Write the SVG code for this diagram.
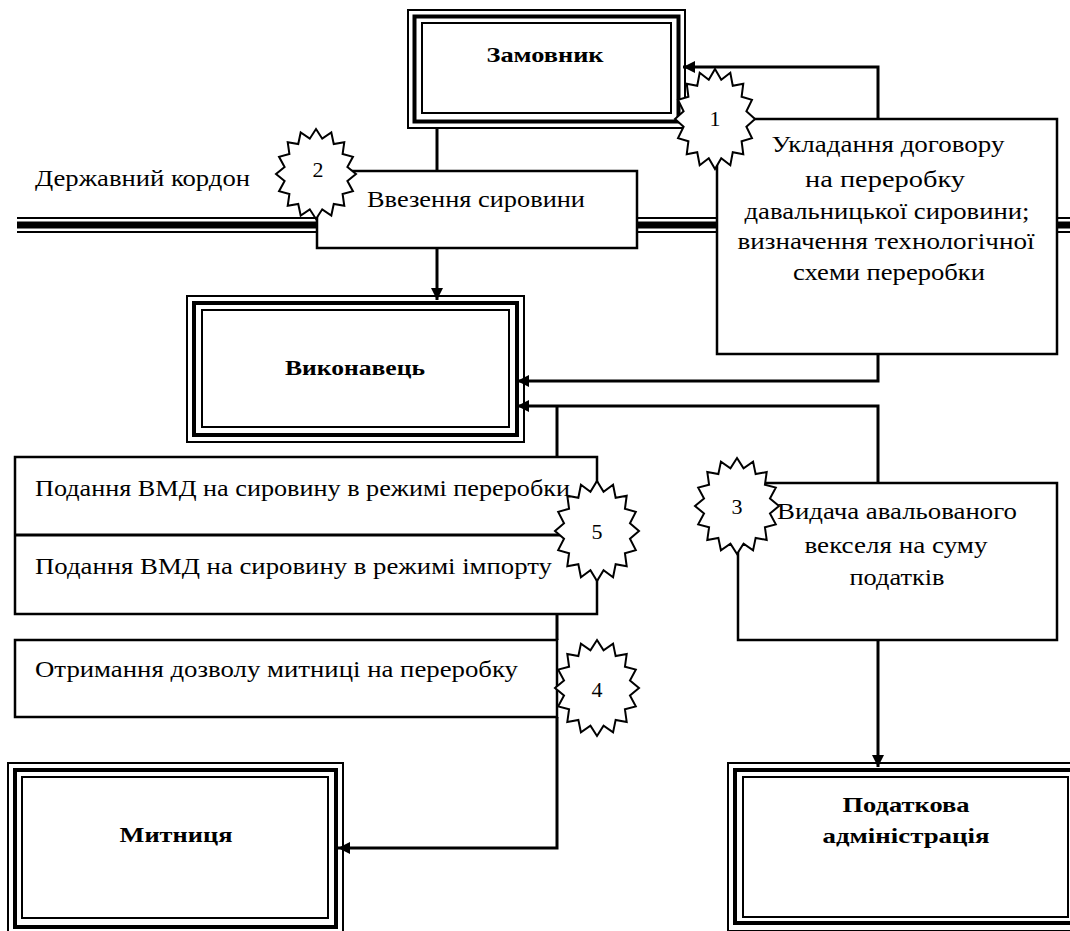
<svg xmlns="http://www.w3.org/2000/svg" xmlns:xlink="http://www.w3.org/1999/xlink" width="1070" height="931" viewBox="0 0 1070 931">
<style>
.box{fill:#fff;stroke:#000;stroke-width:2.5}
.fo{fill:#fff;stroke:#000;stroke-width:2}
.fthin{fill:none;stroke:#000;stroke-width:2}
.fthick{fill:none;stroke:#000;stroke-width:4}
.conn{fill:none;stroke:#000;stroke-width:3}
.bl{stroke:#000;fill:none}
.t{font-family:"Liberation Serif","Times New Roman",serif;font-size:23px;fill:#000}
.b{font-weight:bold;font-size:22px}
.n{font-size:22px}
.star{fill:#fff;stroke:#000;stroke-width:2;vector-effect:non-scaling-stroke}
</style>
<defs>
<marker id="ah" markerWidth="13" markerHeight="13" refX="12" refY="6.5" orient="auto" markerUnits="userSpaceOnUse">
<path d="M0,0.5 L12,6.5 L0,12.5 z" fill="#000"/>
</marker>
<polygon id="star" class="star" points="0,-1 0.156,-0.785 0.3827,-0.9239 0.444,-0.665 0.7071,-0.7071 0.665,-0.444 0.9239,-0.3827 0.785,-0.156 1,0 0.785,0.156 0.9239,0.3827 0.665,0.444 0.7071,0.7071 0.444,0.665 0.3827,0.9239 0.156,0.785 0,1 -0.156,0.785 -0.3827,0.9239 -0.444,0.665 -0.7071,0.7071 -0.665,0.444 -0.9239,0.3827 -0.785,0.156 -1,0 -0.785,-0.156 -0.9239,-0.3827 -0.665,-0.444 -0.7071,-0.7071 -0.444,-0.665 -0.3827,-0.9239 -0.156,-0.785"/>
</defs>
<rect width="1070" height="931" fill="#fff"/>

<g id="border">
<line class="bl" x1="17" y1="218" x2="1070" y2="218" stroke-width="2"/>
<line class="bl" x1="17" y1="225" x2="1070" y2="225" stroke-width="7"/>
<line class="bl" x1="17" y1="232" x2="1070" y2="232" stroke-width="2"/>
<text class="t" x="35" y="186" textLength="215" lengthAdjust="spacingAndGlyphs">Державний кордон</text>
</g>

<g id="zamovnyk">
<rect class="fo" x="408" y="10" width="277" height="118"/>
<rect class="fthick" x="414.5" y="16.5" width="264" height="105"/>
<rect class="fthin" x="422" y="23" width="249" height="90"/>
<text class="t b" x="545" y="62" text-anchor="middle" textLength="117" lengthAdjust="spacingAndGlyphs">Замовник</text>
</g>

<g id="vykonavets">
<rect class="fo" x="187" y="296" width="337" height="146"/>
<rect class="fthick" x="194" y="303" width="323" height="132"/>
<rect class="fthin" x="202" y="310" width="307" height="117"/>
<text class="t b" x="355" y="375" text-anchor="middle" textLength="140" lengthAdjust="spacingAndGlyphs">Виконавець</text>
</g>

<g id="mytnytsia">
<rect class="fo" x="8" y="763" width="335" height="172"/>
<rect class="fthick" x="15" y="770" width="321" height="157"/>
<rect class="fthin" x="22" y="777" width="306" height="141"/>
<text class="t b" x="176" y="842" text-anchor="middle" textLength="113" lengthAdjust="spacingAndGlyphs">Митниця</text>
</g>

<g id="podatkova">
<rect class="fo" x="728" y="763" width="356" height="168"/>
<rect class="fthick" x="735" y="770" width="341" height="153"/>
<rect class="fthin" x="743" y="777" width="325" height="140"/>
<text class="t b" x="906" y="812" text-anchor="middle" textLength="127" lengthAdjust="spacingAndGlyphs">Податкова</text>
<text class="t b" x="906" y="843" text-anchor="middle" textLength="167" lengthAdjust="spacingAndGlyphs">адміністрація</text>
</g>

<g id="vvezennia">
<rect class="box" x="317" y="171" width="320" height="77"/>
<text class="t" x="476" y="207" text-anchor="middle" textLength="218" lengthAdjust="spacingAndGlyphs">Ввезення сировини</text>
</g>

<g id="ukladannia">
<rect class="box" x="717" y="119" width="340" height="235"/>
<text class="t" x="888" y="152" text-anchor="middle" textLength="233" lengthAdjust="spacingAndGlyphs">Укладання договору</text>
<text class="t" x="885" y="187" text-anchor="middle" textLength="160" lengthAdjust="spacingAndGlyphs">на переробку</text>
<text class="t" x="887" y="219" text-anchor="middle" textLength="285" lengthAdjust="spacingAndGlyphs">давальницької сировини;</text>
<text class="t" x="886" y="249" text-anchor="middle" textLength="297" lengthAdjust="spacingAndGlyphs">визначення технологічної</text>
<text class="t" x="889" y="280" text-anchor="middle" textLength="192" lengthAdjust="spacingAndGlyphs">схеми переробки</text>
</g>

<g id="podannia">
<rect class="box" x="15" y="457" width="582" height="157"/>
<line class="conn" x1="15" y1="535" x2="597" y2="535" stroke-width="2.5"/>
<text class="t" x="35" y="496" textLength="535" lengthAdjust="spacingAndGlyphs">Подання ВМД на сировину в режимі переробки</text>
<text class="t" x="35" y="574" textLength="517" lengthAdjust="spacingAndGlyphs">Подання ВМД на сировину в режимі імпорту</text>
</g>

<g id="otrymannia">
<rect class="box" x="15" y="640" width="542" height="77"/>
<text class="t" x="35" y="677" textLength="483" lengthAdjust="spacingAndGlyphs">Отримання дозволу митниці на переробку</text>
</g>

<g id="vydacha">
<rect class="box" x="738" y="483" width="319" height="157"/>
<text class="t" x="897" y="519" text-anchor="middle" textLength="240" lengthAdjust="spacingAndGlyphs">Видача авальованого</text>
<text class="t" x="896" y="553" text-anchor="middle" textLength="183" lengthAdjust="spacingAndGlyphs">векселя на суму</text>
<text class="t" x="897" y="585" text-anchor="middle" textLength="95" lengthAdjust="spacingAndGlyphs">податків</text>
</g>

<g id="connectors">
<path class="conn" d="M878,119 V67 H683" marker-end="url(#ah)"/>
<path class="conn" d="M437,128 V171"/>
<path class="conn" d="M437,248 V300" marker-end="url(#ah)"/>
<path class="conn" d="M878,354 V381 H517" marker-end="url(#ah)"/>
<path class="conn" d="M878,483 V406 H517" marker-end="url(#ah)"/>
<path class="conn" d="M557,406 V457"/>
<path class="conn" d="M557,614 V640"/>
<path class="conn" d="M557,717 V848 H338" marker-end="url(#ah)"/>
<path class="conn" d="M878,640 V767" marker-end="url(#ah)"/>
</g>

<g id="star1">
<use xlink:href="#star" href="#star" transform="translate(715,119) scale(40,50)"/>
<text class="t n" x="715" y="126" text-anchor="middle">1</text>
</g>
<g id="star2">
<use xlink:href="#star" href="#star" transform="translate(316,174) scale(40,45)"/>
<text class="t n" x="318" y="177" text-anchor="middle">2</text>
</g>
<g id="star3">
<use xlink:href="#star" href="#star" transform="translate(737,506) scale(42,48)"/>
<text class="t n" x="737" y="514" text-anchor="middle">3</text>
</g>
<g id="star5">
<use xlink:href="#star" href="#star" transform="translate(597,531) scale(42,50)"/>
<text class="t n" x="597" y="539" text-anchor="middle">5</text>
</g>
<g id="star4">
<use xlink:href="#star" href="#star" transform="translate(597,688) scale(42,48)"/>
<text class="t n" x="597" y="697" text-anchor="middle">4</text>
</g>
</svg>
